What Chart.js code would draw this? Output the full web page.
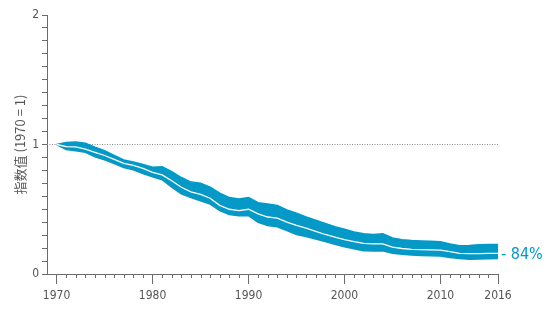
<!DOCTYPE html>
<html>
<head>
<meta charset="utf-8">
<script src="https://cdn.jsdelivr.net/npm/chart.js@4.4.0/dist/chart.umd.min.js"></script>
<style>
body { margin: 0; background: #fff; }
#graph-container { width: 554px; height: 323px; }
</style>
</head>
<body>
<div id="graph-container"><canvas id="myChart" width="554" height="323"></canvas></div>
<script>
var years = [1970, 1971, 1972, 1973, 1974, 1975, 1976, 1977, 1978, 1979,
    1980, 1981, 1982, 1983, 1984, 1985, 1986, 1987, 1988, 1989,
    1990, 1991, 1992, 1993, 1994, 1995, 1996, 1997, 1998, 1999,
    2000, 2001, 2002, 2003, 2004, 2005, 2006, 2007, 2008, 2009,
    2010, 2011, 2012, 2013, 2014, 2015, 2016];

// index value (white line)
var indexValues = [1.00, 0.983, 0.982, 0.965, 0.94, 0.915, 0.885, 0.855, 0.838, 0.815,
    0.785, 0.765, 0.72, 0.67, 0.635, 0.615, 0.585, 0.53, 0.50, 0.49,
    0.50, 0.465, 0.44, 0.432, 0.40, 0.375, 0.355, 0.33, 0.305, 0.285,
    0.265, 0.25, 0.237, 0.232, 0.232, 0.207, 0.197, 0.19, 0.188, 0.186,
    0.185, 0.172, 0.16, 0.157, 0.158, 0.16, 0.16];

// confidence band
var upperValues = [1.00, 1.015, 1.02, 1.01, 0.98, 0.952, 0.915, 0.88, 0.865, 0.845,
    0.825, 0.828, 0.79, 0.745, 0.71, 0.70, 0.67, 0.625, 0.59, 0.58,
    0.59, 0.55, 0.54, 0.53, 0.495, 0.47, 0.44, 0.415, 0.39, 0.365,
    0.345, 0.325, 0.31, 0.305, 0.31, 0.278, 0.265, 0.258, 0.255, 0.252,
    0.25, 0.232, 0.218, 0.22, 0.225, 0.228, 0.228];
var lowerValues = [1.00, 0.962, 0.952, 0.94, 0.905, 0.882, 0.853, 0.822, 0.805, 0.775,
    0.75, 0.728, 0.67, 0.62, 0.59, 0.565, 0.54, 0.49, 0.46, 0.45,
    0.45, 0.40, 0.375, 0.365, 0.335, 0.305, 0.29, 0.27, 0.25, 0.23,
    0.21, 0.195, 0.18, 0.178, 0.18, 0.16, 0.152, 0.147, 0.143, 0.14,
    0.139, 0.128, 0.12, 0.113, 0.115, 0.118, 0.12];

var baselineValue = 1;
var xTickLabels = [1970, 1980, 1990, 2000, 2010, 2016];
var yTickLabels = [0, 1, 2];
var yMinorTicks = [0, 0.1, 0.2, 0.3, 0.4, 0.5, 0.6, 0.7, 0.8, 0.9, 1,
    1.1, 1.2, 1.3, 1.4, 1.5, 1.6, 1.7, 1.8, 1.9, 2];
var yTitle = '指数值 (1970 = 1)';

var bandColor = '#0499c6';
var axisColor = '#6b6b6b';
var textColor = '#555555';
var narrowFont = '"Liberation Sans Narrow", "DejaVu Sans Condensed", "Roboto", sans-serif';

function toPoints(vals) {
    return years.map(function (y, i) { return { x: y, y: vals[i] }; });
}

// short ticks for the in-between years, and the change label at the end
var extrasPlugin = {
    id: 'extras',
    afterDraw: function (chart) {
        var ctx = chart.ctx;
        var xs = chart.scales.x;
        var ys = chart.scales.y;
        var bottom = chart.chartArea.bottom;
        ctx.save();
        ctx.strokeStyle = axisColor;
        ctx.lineWidth = 1;
        years.forEach(function (yr) {
            if (xTickLabels.indexOf(yr) >= 0) return;
            var px = Math.round(xs.getPixelForValue(yr)) + 0.5;
            ctx.beginPath();
            ctx.moveTo(px, bottom);
            ctx.lineTo(px, bottom + 4);
            ctx.stroke();
        });

        var last = indexValues[indexValues.length - 1];
        var pct = Math.round((1 - last) * 100);
        ctx.fillStyle = bandColor;
        ctx.font = '16px ' + narrowFont;
        ctx.textBaseline = 'middle';
        ctx.textAlign = 'left';
        ctx.fillText('- ' + pct + '%', xs.getPixelForValue(years[years.length - 1]) + 3, ys.getPixelForValue(last) + 2);
        ctx.restore();
    }
};

var myChart = new Chart(document.getElementById('myChart').getContext('2d'), {
    type: 'line',
    data: {
        datasets: [{
            label: 'index',
            data: toPoints(indexValues),
            borderColor: '#ffffff',
            borderWidth: 1.3,
            pointRadius: 0,
            fill: false
        }, {
            label: 'upper',
            data: toPoints(upperValues),
            borderColor: bandColor,
            borderWidth: 1.5,
            backgroundColor: bandColor,
            pointRadius: 0,
            fill: '+1'
        }, {
            label: 'lower',
            data: toPoints(lowerValues),
            borderColor: bandColor,
            borderWidth: 1.5,
            pointRadius: 0,
            fill: false
        }, {
            label: 'baseline',
            data: [{ x: 1969, y: baselineValue }, { x: years[years.length - 1], y: baselineValue }],
            borderColor: '#8a8a8a',
            borderWidth: 1,
            borderDash: [1, 1.5],
            pointRadius: 0,
            fill: false
        }]
    },
    options: {
        responsive: false,
        animation: { duration: 0 },
        layout: { padding: { left: 0, right: 56, top: 15, bottom: 0 } },
        plugins: {
            legend: { display: false },
            tooltip: { enabled: false }
        },
        scales: {
            x: {
                type: 'linear',
                min: 1969,
                max: 2016,
                afterBuildTicks: function (scale) {
                    scale.ticks = xTickLabels.map(function (v) { return { value: v }; });
                },
                afterFit: function (scale) { scale.height = 49; },
                ticks: {
                    autoSkip: false,
                    maxRotation: 0,
                    padding: 5,
                    color: textColor,
                    font: { family: narrowFont, size: 12 },
                    callback: function (v) { return String(v); }
                },
                grid: {
                    drawOnChartArea: false,
                    tickLength: 10,
                    tickColor: axisColor
                },
                border: { display: true, color: axisColor }
            },
            y: {
                min: 0,
                max: 2,
                afterBuildTicks: function (scale) {
                    scale.ticks = yMinorTicks.map(function (v) { return { value: v }; });
                },
                afterFit: function (scale) { scale.width = 47; },
                ticks: {
                    autoSkip: false,
                    padding: 3,
                    color: textColor,
                    font: { family: narrowFont, size: 12 },
                    callback: function (v) {
                        var r = Math.round(v);
                        return (Math.abs(v - r) < 1e-6 && yTickLabels.indexOf(r) >= 0) ? String(r) : '';
                    }
                },
                grid: {
                    drawOnChartArea: false,
                    tickLength: 5,
                    tickColor: axisColor
                },
                border: { display: true, color: axisColor },
                title: {
                    display: true,
                    text: yTitle,
                    color: textColor,
                    font: { family: '"Noto Sans CJK SC", "Noto Sans", sans-serif', size: 13 },
                    padding: { top: 12, bottom: 0 }
                }
            }
        }
    },
    plugins: [extrasPlugin]
});
</script>
</body>
</html>
